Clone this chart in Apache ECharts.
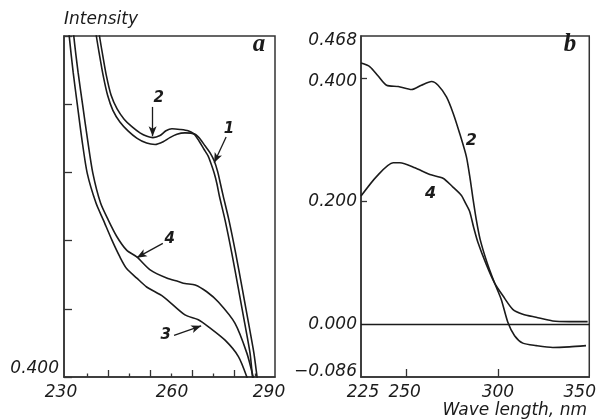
<!DOCTYPE html>
<html>
<head>
<meta charset="utf-8">
<script src="https://cdn.jsdelivr.net/npm/echarts@6/dist/echarts.min.js"></script>
<style>html,body{margin:0;padding:0;background:#fff}#c{width:599px;height:420px}</style>
</head>
<body>
<div id="c"></div>
<script>
// ---- Panel a (left): wavelength (nm) vs intensity ----
const leftXLabels = [230, 260, 290];
const leftXMajorTicks = [242.5, 254.5, 266.5, 278.5];
const leftXMinorTicks = [236.5, 248.5, 260.5, 272.5, 284.5];
const leftYLabels = [0.4];

const leftCurve1 = [[238.9,0.916],[239.2,0.900],[240.1,0.872],[241.1,0.843],[242.4,0.813],[243.9,0.791],[245.9,0.774],[248.2,0.761],[250.8,0.750],[253.5,0.743],[255.9,0.741],[258.2,0.745],[260.1,0.751],[262.1,0.756],[264.4,0.758],[267.3,0.756],[268.7,0.749],[270.1,0.739],[271.5,0.729],[272.7,0.717],[273.7,0.701],[274.5,0.683],[275.2,0.667],[276.9,0.630],[278.8,0.582],[280.6,0.532],[282.3,0.484],[284.0,0.435],[284.9,0.400],[285.2,0.388]];
const leftCurve2 = [[239.8,0.916],[240.1,0.900],[241.0,0.872],[242.0,0.843],[243.4,0.813],[245.1,0.793],[247.1,0.778],[249.3,0.767],[251.6,0.758],[253.6,0.753],[255.3,0.751],[257.3,0.754],[259.0,0.761],[260.7,0.764],[263.0,0.763],[265.3,0.761],[267.0,0.756],[268.4,0.746],[269.8,0.734],[271.0,0.724],[271.8,0.713],[272.7,0.699],[273.5,0.683],[274.2,0.665],[275.8,0.630],[277.7,0.582],[279.5,0.532],[281.2,0.484],[282.9,0.435],[283.6,0.400],[283.9,0.388]];
const leftCurve3 = [[231.3,0.916],[231.5,0.899],[232.6,0.847],[233.8,0.799],[235.1,0.748],[236.6,0.699],[239.1,0.655],[241.2,0.630],[243.6,0.601],[245.9,0.576],[247.8,0.559],[250.7,0.545],[253.5,0.532],[258.2,0.518],[264.4,0.491],[268.2,0.484],[271.0,0.474],[275.8,0.454],[279.6,0.430],[282.0,0.400],[282.3,0.391]];
const leftCurve4 = [[232.6,0.916],[232.8,0.899],[234.0,0.847],[235.3,0.799],[236.7,0.748],[238.2,0.699],[240.4,0.655],[242.6,0.630],[245.0,0.606],[247.8,0.586],[250.7,0.576],[254.5,0.557],[259.2,0.545],[262.5,0.540],[264.4,0.537],[267.3,0.535],[270.6,0.525],[273.9,0.510],[278.6,0.479],[282.0,0.435],[283.8,0.400],[284.1,0.390]];

// ---- Panel b (right): wavelength (nm) vs intensity ----
const rightXLabels = [225, 250, 300, 350];
const rightXTicks = [250, 300];
const rightYLabels = [-0.086, 0, 0.2, 0.4, 0.468];
const rightYTicks = [0.2, 0.4];

const rightCurve2 = [[225.0,0.424],[229.9,0.418],[234.4,0.403],[239.0,0.388],[245.4,0.386],[252.7,0.381],[258.1,0.388],[263.6,0.394],[267.2,0.388],[271.8,0.369],[275.4,0.343],[279.0,0.310],[282.7,0.272],[284.8,0.235],[286.4,0.202],[288.1,0.170],[290.2,0.138],[294.0,0.100],[298.1,0.067],[301.8,0.040],[305.4,0.003],[309.1,-0.019],[313.6,-0.031],[320.9,-0.035],[330.0,-0.038],[339.1,-0.037],[348.2,-0.035]];
const rightCurve4 = [[225.0,0.208],[233.6,0.240],[242.6,0.262],[246.3,0.262],[254.5,0.254],[262.7,0.243],[269.9,0.237],[275.2,0.223],[280.0,0.209],[282.3,0.196],[284.5,0.183],[286.7,0.157],[289.0,0.133],[293.6,0.097],[298.1,0.067],[302.7,0.046],[308.1,0.024],[313.6,0.016],[320.9,0.011],[330.0,0.005],[339.1,0.004],[349.1,0.004]];

// arrows (data coordinates of panel a): [from, to]
const arrow1 = [[276.1,0.752],[272.7,0.714]];
const arrow2 = [[255.2,0.796],[255.2,0.753]];
const arrow3 = [[261.3,0.461],[269.0,0.475]];
const arrow4 = [[258.1,0.596],[250.7,0.575]];

const INK = '#1b1b1b';
const FONT = 'DejaVu Sans';
const base = {fontFamily: FONT, fontStyle: 'italic', fontSize: 17, color: INK};
const fmt3 = v => (v < 0 ? '\u2212' : '') + Math.abs(v).toFixed(3);

const chart = echarts.init(document.getElementById('c'), null, {renderer: 'canvas'});

function lineSeries(data, xi, yi, extra) {
  return Object.assign({
    type: 'line', data: data, xAxisIndex: xi, yAxisIndex: yi,
    showSymbol: false, symbol: 'none', smooth: 0.25, silent: true, animation: false,
    lineStyle: {color: INK, width: 1.6}
  }, extra || {});
}

const arrowLines = [arrow1, arrow2, arrow3, arrow4].map(a => [{coord: a[0]}, {coord: a[1]}]);

const option = {
  animation: false,
  backgroundColor: '#fff',
  grid: [
    {left: 64, top: 36, width: 211, height: 341, show: true, borderColor: '#333', borderWidth: 1.5, backgroundColor: 'transparent'},
    {left: 361, top: 36, width: 229, height: 341, show: true, borderColor: '#333', borderWidth: 1.5, backgroundColor: 'transparent'}
  ],
  xAxis: [
    {type: 'value', gridIndex: 0, min: 230, max: 290, position: 'bottom',
      axisLine: {show: true, onZero: false, lineStyle: {color: '#333', width: 1.5}},
      axisTick: {show: true, inside: true, length: 7, customValues: leftXMajorTicks, lineStyle: {color: '#333', width: 1.3}},
      splitLine: {show: false},
      axisLabel: {customValues: leftXLabels, margin: 7, formatter: v => '{p' + v + '|' + v + '}',
        rich: {p230: Object.assign({padding: [0, 6, 0, 0]}, base), p260: Object.assign({padding: [0, 0, 0, 5]}, base), p290: Object.assign({padding: [0, 12, 0, 0]}, base)}}
    },
    {type: 'value', gridIndex: 1, min: 225, max: 350, position: 'bottom',
      axisLine: {show: true, onZero: false, lineStyle: {color: '#333', width: 1.5}},
      axisTick: {show: true, inside: true, length: 8, customValues: rightXTicks, lineStyle: {color: '#333', width: 1.3}},
      splitLine: {show: false},
      axisLabel: {customValues: rightXLabels, margin: 7, formatter: v => '{p' + v + '|' + v + '}',
        rich: {p225: Object.assign({padding: [0, 0, 0, 4]}, base), p250: Object.assign({padding: [0, 4, 0, 0]}, base), p300: Object.assign({}, base), p350: Object.assign({padding: [0, 19, 0, 0]}, base)}}
    },
    {type: 'value', gridIndex: 0, min: 230, max: 290, position: 'bottom',
      axisLine: {show: false, onZero: false},
      axisTick: {show: true, inside: true, length: 3.5, customValues: leftXMinorTicks, lineStyle: {color: '#333', width: 1.3}},
      splitLine: {show: false}, axisLabel: {show: false}
    }
  ],
  yAxis: [
    {type: 'value', gridIndex: 0, min: 0.4, max: 0.9, interval: 0.1,
      axisLine: {show: true, onZero: false, lineStyle: {color: '#333', width: 1.5}},
      axisTick: {show: true, inside: true, length: 8, lineStyle: {color: '#333', width: 1.3}},
      splitLine: {show: false},
      axisLabel: {customValues: leftYLabels, margin: 5, formatter: v => '{b|' + fmt3(v) + '}',
        rich: {b: Object.assign({padding: [0, 0, 16, 0]}, base)}}
    },
    {type: 'value', gridIndex: 1, min: -0.086, max: 0.468,
      axisLine: {show: true, onZero: false, lineStyle: {color: '#333', width: 1.5}},
      axisTick: {show: true, inside: true, length: 6, customValues: rightYTicks, lineStyle: {color: '#333', width: 1.3}},
      splitLine: {show: false},
      axisLabel: {customValues: rightYLabels, margin: 4,
        formatter: v => {
          const k = v > 0.45 ? 't' : (v < -0.05 ? 'b' : (v > 0.3 ? 'f' : 'n'));
          return '{' + k + '|' + fmt3(v) + '}';
        },
        rich: {
          t: Object.assign({padding: [10, 0, 0, 0]}, base),
          b: Object.assign({padding: [0, 0, 10, 0]}, base),
          f: Object.assign({padding: [8, 0, 0, 0]}, base),
          n: Object.assign({padding: [2, 0, 0, 0]}, base)
        }}
    }
  ],
  series: [
    lineSeries(leftCurve1, 0, 0, {
      markLine: {silent: true, symbol: ['none', 'arrow'], symbolSize: [6, 10], label: {show: false},
        lineStyle: {color: INK, width: 1.3, type: 'solid'}, data: arrowLines}
    }),
    lineSeries(leftCurve2, 0, 0),
    lineSeries(leftCurve3, 0, 0),
    lineSeries(leftCurve4, 0, 0),
    lineSeries(rightCurve2, 1, 1, {
      markLine: {silent: true, symbol: ['none', 'none'], label: {show: false},
        lineStyle: {color: INK, width: 1.3, type: 'solid'}, data: [{yAxis: 0}]}
    }),
    lineSeries(rightCurve4, 1, 1)
  ],
  graphic: [
    {type: 'text', left: 64, top: 11, style: {text: 'Intensity', font: 'italic 17px "DejaVu Sans"', fill: INK}},
    {type: 'text', right: 12, top: 402, style: {text: 'Wave length, nm', font: 'italic 17px "DejaVu Sans"', fill: INK}},
    {type: 'text', x: 259, y: 57.5, style: {text: 'a', font: 'italic bold 25px "Liberation Serif"', fill: INK, textAlign: 'center', textVerticalAlign: 'bottom'}},
    {type: 'text', x: 570, y: 57.5, style: {text: 'b', font: 'italic bold 25px "Liberation Serif"', fill: INK, textAlign: 'center', textVerticalAlign: 'bottom'}},
    {type: 'text', x: 158.7, y: 98.3, style: {text: '2', font: 'italic bold 15px "DejaVu Sans"', fill: INK, textAlign: 'center', textVerticalAlign: 'middle'}},
    {type: 'text', x: 229, y: 128.7, style: {text: '1', font: 'italic bold 15px "DejaVu Sans"', fill: INK, textAlign: 'center', textVerticalAlign: 'middle'}},
    {type: 'text', x: 169.7, y: 238.7, style: {text: '4', font: 'italic bold 15px "DejaVu Sans"', fill: INK, textAlign: 'center', textVerticalAlign: 'middle'}},
    {type: 'text', x: 165.8, y: 335, style: {text: '3', font: 'italic bold 15px "DejaVu Sans"', fill: INK, textAlign: 'center', textVerticalAlign: 'middle'}},
    {type: 'text', x: 471.3, y: 140.8, style: {text: '2', font: 'italic bold 16px "DejaVu Sans"', fill: INK, textAlign: 'center', textVerticalAlign: 'middle'}},
    {type: 'text', x: 430.5, y: 194, style: {text: '4', font: 'italic bold 16px "DejaVu Sans"', fill: INK, textAlign: 'center', textVerticalAlign: 'middle'}}
  ]
};
chart.setOption(option);
</script>
</body>
</html>
